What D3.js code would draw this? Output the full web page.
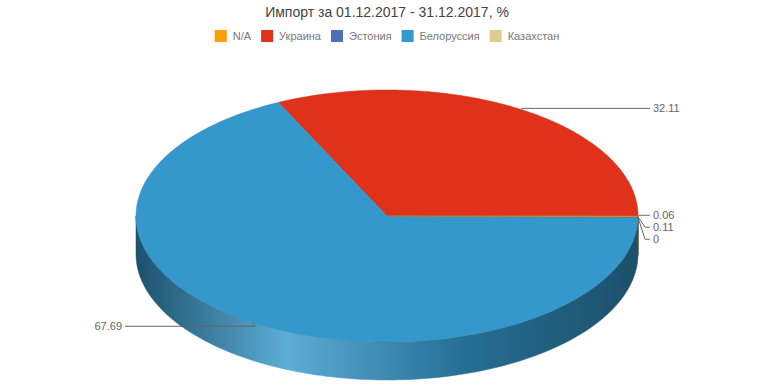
<!DOCTYPE html>
<html>
<head>
<meta charset="utf-8">
<script src="https://cdn.jsdelivr.net/npm/d3@7/dist/d3.min.js"></script>
<style>
  body { margin: 0; background: #fff; }
  svg { display: block; font-family: "Liberation Sans", Arial, sans-serif; }
</style>
</head>
<body>
<svg id="chart" width="774" height="387"></svg>
<script>
const title = "Импорт за 01.12.2017 - 31.12.2017, %";
const countries = ["N/A", "Украина", "Эстония", "Белоруссия", "Казахстан"];
const shares = [0.06, 32.11, 0.11, 67.69, 0];
const colors = ["#ff9e01", "#e0311a", "#4d70b3", "#3598cc", "#ddcd8e"];
// order in which slices go round the pie (counter-clockwise from 3 o'clock)
const sliceOrder = ["Украина", "Белоруссия", "Казахстан", "Эстония", "N/A"];

const width = 774, height = 387;
const cx = 387, cy = 216, rx = 251, ry = 126, depth = 38;

const svg = d3.select("#chart");
const defs = svg.append("defs");

const data = sliceOrder.map(name => {
  const i = countries.indexOf(name);
  return { name, value: shares[i], color: colors[i] };
});

const pie = d3.pie().sort(null).value(d => d.value).startAngle(0).endAngle(2 * Math.PI);
const arcs = pie(data);

// angle measured counter-clockwise from 3 o'clock
const pt = (a, dy = 0) => [cx + rx * Math.cos(a), cy - ry * Math.sin(a) + dy];

function ellipseArc(a0, a1, dy, steps) {
  const pts = [];
  for (let k = 0; k <= steps; k++) pts.push(pt(a0 + (a1 - a0) * k / steps, dy));
  return pts;
}

// title
svg.append("text")
  .attr("x", width / 2).attr("y", 17)
  .attr("text-anchor", "middle")
  .style("font-size", "14px").style("fill", "#444")
  .text(title);

// legend
const legend = svg.append("g");
let lx = 0;
countries.forEach((c, i) => {
  const g = legend.append("g").attr("transform", `translate(${lx},0)`);
  g.append("rect").attr("x", 0).attr("y", 0).attr("width", 12).attr("height", 12).attr("fill", colors[i]);
  const t = g.append("text").attr("x", 18).attr("y", 10)
    .style("font-size", "11px").style("fill", "#777").text(c);
  lx += 18 + t.node().getComputedTextLength() + 10;
});
legend.attr("transform", `translate(${(width - (lx - 10)) / 2},30)`);

// side gradients
arcs.forEach((d, i) => {
  const base = d3.color(d.data.color);
  const light = d3.interpolateRgb(d.data.color, "#fff")(0.2);
  const gr = defs.append("linearGradient").attr("id", "side" + i)
    .attr("gradientUnits", "userSpaceOnUse")
    .attr("x1", cx - rx).attr("x2", cx + rx).attr("y1", 0).attr("y2", 0);
  gr.append("stop").attr("offset", "0%").attr("stop-color", base.darker(1.75));
  gr.append("stop").attr("offset", "30%").attr("stop-color", light);
  gr.append("stop").attr("offset", "65%").attr("stop-color", base.darker(0.9));
  gr.append("stop").attr("offset", "100%").attr("stop-color", base.darker(1.8));
});

const line = d3.line();

// visible sides (front half: angles between PI and 2PI)
const sides = svg.append("g");
arcs.forEach((d, i) => {
  const a0 = Math.max(d.startAngle, Math.PI);
  const a1 = Math.min(d.endAngle, 2 * Math.PI);
  if (a1 <= a0) return;
  const top = ellipseArc(a0, a1, 0, 120);
  const bottom = ellipseArc(a1, a0, depth, 120);
  sides.append("path")
    .attr("d", line(top.concat(bottom)) + "Z")
    .attr("fill", `url(#side${i})`)
    .attr("stroke", `url(#side${i})`).attr("stroke-width", 0.5);
});

// top faces
const tops = svg.append("g");
arcs.forEach(d => {
  if (d.endAngle - d.startAngle <= 0) return;
  const rim = ellipseArc(d.startAngle, d.endAngle, 0, 200);
  tops.append("path")
    .attr("d", line([[cx, cy]].concat(rim)) + "Z")
    .attr("fill", d.data.color)
    .attr("stroke", d3.color(d.data.color).darker(0.3)).attr("stroke-width", 0.5);
});

// labels
const labels = arcs.map(d => {
  const mid = (d.startAngle + d.endAngle) / 2;
  const a = pt(mid);
  const right = Math.cos(mid) >= 0;
  return { d, mid, anchor: a, right, y: a[1] + (Math.sin(mid) < -0.3 ? 4 : -1) };
});
[true, false].forEach(side => {
  const group = labels.filter(l => l.right === side).sort((p, q) => p.y - q.y);
  for (let k = 1; k < group.length; k++) {
    if (group[k].y < group[k - 1].y + 12) group[k].y = group[k - 1].y + 12;
  }
});

const lab = svg.append("g");
labels.forEach(l => {
  const endX = l.right ? 650 : 125;
  const elbow = Math.abs(l.y - l.anchor[1]) > 3 && Math.abs(l.anchor[0] - endX) < 30
    ? [endX + (l.right ? -5 : 5), l.y]
    : [l.anchor[0] + (l.right ? 1 : 3), l.y];
  lab.append("path")
    .attr("d", line([l.anchor, elbow, [endX, l.y]]))
    .attr("fill", "none").attr("stroke", "#666").attr("stroke-width", 1);
  lab.append("text")
    .attr("x", l.right ? endX + 3 : endX - 3).attr("y", l.y)
    .attr("dy", "0.35em")
    .attr("text-anchor", l.right ? "start" : "end")
    .style("font-size", "11px").style("fill", "#666")
    .text(d3.format("")(l.d.data.value));
});
</script>
</body>
</html>
